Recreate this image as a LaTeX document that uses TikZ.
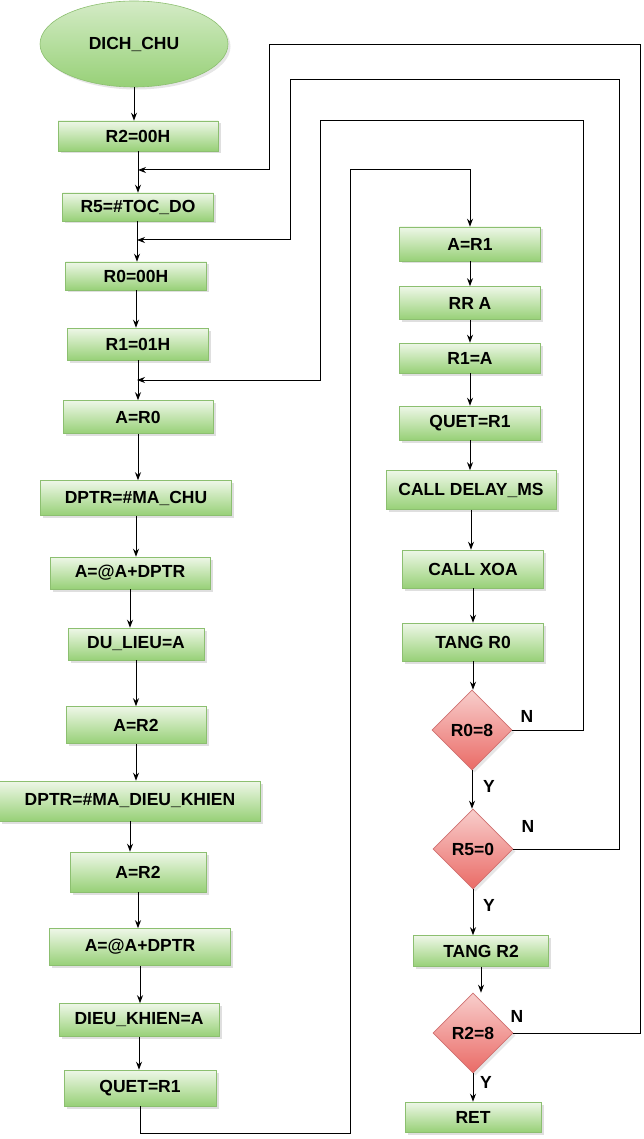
\documentclass[tikz,border=0pt]{standalone}
\usepackage{fontspec}
\setmainfont{Liberation Sans}
\usepackage[HTML]{xcolor}
\usetikzlibrary{positioning, arrows, arrows.meta, shapes.geometric, shadows}

\definecolor{boxtop}{HTML}{EEF7E8}
\definecolor{boxbot}{HTML}{97D077}
\definecolor{boxline}{HTML}{8CBF70}
\definecolor{dtop}{HTML}{F8CECC}
\definecolor{dbot}{HTML}{EA6B66}
\definecolor{dline}{HTML}{D07070}

\tikzset{
  procbox/.style={rectangle, draw=boxline, line width=0.6pt, top color=boxtop, bottom color=boxbot,
    inner sep=0pt, font=\fontsize{17.5}{20}\selectfont\bfseries,
    drop shadow={shadow xshift=2.5pt, shadow yshift=-2.5pt, opacity=0.25}},
  startnode/.style={ellipse, draw=boxline, line width=0.6pt, top color=boxtop!70!boxbot, bottom color=boxbot,
    inner sep=0pt, font=\fontsize{17.5}{20}\selectfont\bfseries,
    drop shadow={shadow xshift=2.5pt, shadow yshift=-2.5pt, opacity=0.2}},
  testnode/.style={diamond, draw=dline, line width=0.6pt, top color=dtop, bottom color=dbot,
    inner sep=0pt, minimum width=80, minimum height=80, font=\fontsize{17.5}{20}\selectfont\bfseries,
    drop shadow={shadow xshift=2.5pt, shadow yshift=-2.5pt, opacity=0.2}},
  flow/.style={-{Stealth[length=8pt, width=6pt]}, line width=1pt},
  branchlabel/.style={font=\fontsize{17.5}{20}\selectfont\bfseries}
}

\begin{document}
\begin{tikzpicture}[x=1pt, y=-1pt]
\useasboundingbox (0,0) rectangle (643,1139);

% nodes (left column)
\node[startnode, minimum width=188, minimum height=86] (start) at (134,44) {DICH\_CHU};
\node[procbox, minimum width=160, minimum height=30] (r2) at (138,136) {R2=00H};
\node[procbox, minimum width=151, minimum height=28] (r5) at (138,207) {R5=\#TOC\_DO};
\node[procbox, minimum width=141, minimum height=28] (r0) at (136,276) {R0=00H};
\node[procbox, minimum width=141, minimum height=32] (r1) at (138,344) {R1=01H};
\node[procbox, minimum width=150, minimum height=33] (ar0) at (138,417) {A=R0};
\node[procbox, minimum width=191, minimum height=35] (dptr1) at (136,498) {DPTR=\#MA\_CHU};
\node[procbox, minimum width=160, minimum height=32] (movc1) at (130,573) {A=@A+DPTR};
\node[procbox, minimum width=136, minimum height=32] (dulieu) at (136,644) {DU\_LIEU=A};
\node[procbox, minimum width=140, minimum height=37] (ar2a) at (136,725) {A=R2};
\node[procbox, minimum width=261, minimum height=40] (dptr2) at (130,801) {DPTR=\#MA\_DIEU\_KHIEN};
\node[procbox, minimum width=136, minimum height=40] (ar2b) at (138,872) {A=R2};
\node[procbox, minimum width=181, minimum height=37] (movc2) at (140,947) {A=@A+DPTR};
\node[procbox, minimum width=160, minimum height=33] (dkhien) at (139,1020) {DIEU\_KHIEN=A};
\node[procbox, minimum width=152, minimum height=36] (quet1) at (140,1088) {QUET=R1};

% nodes (right column)
\node[procbox, minimum width=141, minimum height=34] (ar1) at (470,244) {A=R1};
\node[procbox, minimum width=141, minimum height=33] (rra) at (470,303) {RR A};
\node[procbox, minimum width=141, minimum height=30] (r1a) at (470,358) {R1=A};
\node[procbox, minimum width=141, minimum height=34] (quet2) at (470,423) {QUET=R1};
\node[procbox, minimum width=170, minimum height=39] (delay) at (471,490) {CALL DELAY\_MS};
\node[procbox, minimum width=141, minimum height=38] (xoa) at (473,569) {CALL XOA};
\node[procbox, minimum width=141, minimum height=38] (incr0) at (473,642) {TANG R0};
\node[testnode] (t0) at (472,730) {R0=8};
\node[testnode] (t5) at (473,849) {R5=0};
\node[procbox, minimum width=135, minimum height=31] (incr2) at (481,951) {TANG R2};
\node[testnode] (t2) at (473,1033) {R2=8};
\node[procbox, minimum width=136, minimum height=30] (ret) at (473,1117) {RET};

% joins on the left column
\coordinate (jA) at (138,170);
\coordinate (jB) at (137,240);
\coordinate (jC) at (137,380);

% straight arrows (left)
\draw[flow] (start) -- (start |- r2.north);
\draw[flow] (r2) -- (r2 |- r5.north);
\draw[flow] (jB |- r5.south) -- (jB |- r0.north);
\draw[flow] (r0) -- (r0 |- r1.north);
\draw[flow] (r1) -- (r1 |- ar0.north);
\draw[flow] (ar0) -- (ar0 |- dptr1.north);
\draw[flow] (dptr1) -- (dptr1 |- movc1.north);
\draw[flow] (movc1) -- (movc1 |- dulieu.north);
\draw[flow] (dulieu) -- (dulieu |- ar2a.north);
\draw[flow] (ar2a) -- (ar2a |- dptr2.north);
\draw[flow] (dptr2) -- (dptr2 |- ar2b.north);
\draw[flow] (ar2b) -- (ar2b |- movc2.north);
\draw[flow] (movc2) -- (movc2 |- dkhien.north);
\draw[flow] (dkhien) -- (dkhien |- quet1.north);

% straight arrows (right)
\draw[flow] (ar1) -- (ar1 |- rra.north);
\draw[flow] (rra) -- (rra |- r1a.north);
\draw[flow] (r1a) -- (r1a |- quet2.north);
\draw[flow] (quet2) -- (quet2 |- delay.north);
\draw[flow] (delay) -- (delay |- xoa.north);
\draw[flow] (xoa) -- (xoa |- incr0.north);
\draw[flow] (incr0) -- (incr0 |- t0.north);
\draw[flow] (t0) -- (t0 |- t5.north);
\draw[flow] (t5) -- (t5 |- incr2.north);
\draw[flow] (incr2) -- (incr2 |- t2.north);
\draw[flow] (t2) -- (t2 |- ret.north);

% back loops
\draw[flow] (t0.east) -- (583,730) -- (583,121) -- (320,121) -- (320,380) -- (jC);
\draw[flow] (t5.east) -- (619,849) -- (619,80) -- (290,80) -- (290,240) -- (jB);
\draw[flow] (t2.east) -- (640,1033) -- (640,45) -- (269,45) -- (269,170) -- (jA);
\draw[flow] (quet1) -- (140,1133) -- (350,1133) -- (350,170) -- (470,170) -- (ar1);

% branch labels
\node[branchlabel] (n0) at (527,716) {N};
\node[branchlabel] (n5) at (528,826) {N};
\node[branchlabel] (n2) at (517,1016) {N};
\node[branchlabel] (y0) at (489,786) {Y};
\node[branchlabel] (y5) at (489,905) {Y};
\node[branchlabel] (y2) at (486,1082) {Y};
\end{tikzpicture}
\end{document}
